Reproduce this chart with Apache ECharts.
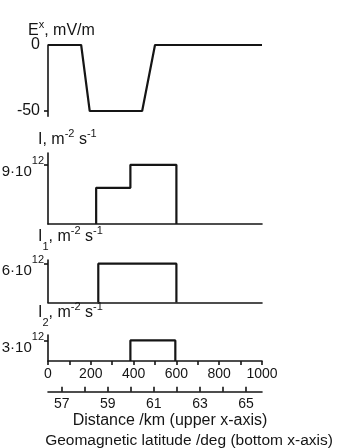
<!DOCTYPE html>
<html><head><meta charset="utf-8">
<script src="https://cdn.jsdelivr.net/npm/echarts@6/dist/echarts.min.js"></script>
<style>html,body{margin:0;padding:0;background:#fff}#c{width:347px;height:448px}</style>
</head><body><div id="c"></div>
<script>
// ---- data ----
const distTicks = [0,100,200,300,400,500,600,700,800,900,1000];
const distLabels = [0,200,400,600,800,1000];
const latTicks = [57,58,59,60,61,62,63,64,65];
const latLabels = [57,59,61,63,65];
// E^x (mV/m) vs distance (km)
const exX = [0,155,195,440,500,1000];
const exY = [0,0,-50,-50,0,0];
// I (units of 1e12 m^-2 s^-1)
const iX = [225,225,385,385,600,600];
const iY = [0,5.5,5.5,9,9,0];
// I1
const i1X = [235,235,600,600];
const i1Y = [0,6,6,0];
// I2
const i2X = [385,385,595,595];
const i2Y = [0,3,3,0];
// y tick labels
const exTicks = [-50];
const exLabels = [-50,0];
const iLabel = [9];
const i1Label = [6];
const i2Label = [3];

const zip = (a,b) => a.map((v,k)=>[v,b[k]]);
const INK = '#151515';
const FONT = 'Liberation Sans, Arial, sans-serif';
const NARROW = '"Liberation Sans Narrow", "Liberation Sans", sans-serif';

const supRich = {
  h:{fontSize:1,lineHeight:30,width:0},
  n:{fontSize:15,fontFamily:FONT,color:INK,lineHeight:18,verticalAlign:'bottom'},
  s:{fontSize:11,fontFamily:FONT,color:INK,lineHeight:22,verticalAlign:'top',padding:[6,0,0,0]}
};
const powFmt = v => '{h|\u200b}{n|' + v + '\u00b710}{s|12}';

function yAx(gi,min,max,ticks,labels,fmt,rich,margin){
  return {gridIndex:gi,type:'value',min:min,max:max,
    axisLine:{show:true,onZero:false,lineStyle:{color:INK,width:1.6}},
    axisTick:{show:true,length:4,customValues:ticks,lineStyle:{color:INK,width:1.6}},
    axisLabel:{show:true,customValues:labels,margin:margin||8,fontSize:16,fontFamily:FONT,color:INK,
      formatter:fmt||(v=>String(v)),rich:rich||undefined},
    splitLine:{show:false}};
}
function xAx(gi,extra){
  return Object.assign({gridIndex:gi,type:'value',min:0,max:1000,
    axisLine:{show:true,onZero:false,lineStyle:{color:INK,width:1.6}},
    axisTick:{show:false},axisLabel:{show:false},splitLine:{show:false}},extra||{});
}

const titleRich = {
  m:{fontSize:16,fontFamily:FONT,color:INK,lineHeight:26},
  p:{fontSize:11,fontFamily:FONT,color:INK,lineHeight:14,verticalAlign:'top',padding:[1.5,0,0,0]},
  b:{fontSize:11,fontFamily:FONT,color:INK,lineHeight:26,verticalAlign:'top',padding:[17,0,0,0]}
};
function ttl(x,y,text){
  return {type:'text',x:x,y:y,style:{text:text,rich:titleRich,verticalAlign:'middle',align:'left',fill:INK,font:'16px '+FONT}};
}
const G = (top,height)=>({left:48,width:214,top:top,height:height,containLabel:false,outerBoundsMode:'none'});

const chart = echarts.init(document.getElementById('c'),null,{renderer:'canvas'});
chart.setOption({
  animation:false,
  backgroundColor:'#fff',
  grid:[G(45,71.3),G(153,71),G(260,42.5),G(335,26),G(380,11.7)],
  xAxis:[
    xAx(0,{axisLine:{show:false}}),
    xAx(1),
    xAx(2),
    xAx(3,{axisTick:{show:true,length:4,customValues:distTicks,lineStyle:{color:INK,width:1.6}},
      axisLabel:{show:true,customValues:distLabels,margin:6,fontSize:14,fontFamily:NARROW,color:INK,formatter:v=>String(v)}}),
    {gridIndex:4,type:'value',min:56.405,max:65.694,
      axisLine:{show:true,lineStyle:{color:INK,width:1.6}},
      axisTick:{show:true,inside:true,length:5,customValues:latTicks,lineStyle:{color:INK,width:1.6}},
      axisLabel:{show:true,customValues:latLabels,margin:5,fontSize:14,fontFamily:NARROW,color:INK,formatter:v=>String(v)},
      splitLine:{show:false}}
  ],
  yAxis:[
    yAx(0,-54,0,exTicks,exLabels),
    yAx(1,0,10.8,iLabel,iLabel,powFmt,supRich,4),
    yAx(2,0,6.57,i1Label,i1Label,powFmt,supRich,4),
    yAx(3,0,3.8,i2Label,i2Label,powFmt,supRich,4),
    {gridIndex:4,type:'value',show:false,min:0,max:1}
  ],
  series:[
    {type:'line',xAxisIndex:0,yAxisIndex:0,data:zip(exX,exY),symbol:'none',lineStyle:{color:INK,width:2.2},silent:true},
    {type:'line',xAxisIndex:1,yAxisIndex:1,data:zip(iX,iY),symbol:'none',lineStyle:{color:INK,width:2.2},silent:true},
    {type:'line',xAxisIndex:2,yAxisIndex:2,data:zip(i1X,i1Y),symbol:'none',lineStyle:{color:INK,width:2.2},silent:true},
    {type:'line',xAxisIndex:3,yAxisIndex:3,data:zip(i2X,i2Y),symbol:'none',lineStyle:{color:INK,width:2.2},silent:true}
  ],
  graphic:[
    ttl(28,31,'{m|E}{p|x}{m|, mV/m}'),
    ttl(38,140,'{m|I, m}{p|-2}{m| s}{p|-1}'),
    ttl(38,237,'{m|I}{b|1}{m|, m}{p|-2}{m| s}{p|-1}'),
    ttl(38,313,'{m|I}{b|2}{m|, m}{p|-2}{m| s}{p|-1}'),
    {type:'text',x:170,y:421,style:{text:'Distance /km (upper x-axis)',align:'center',verticalAlign:'middle',fill:INK,font:'16px '+FONT}},
    {type:'text',x:189,y:441,style:{text:'Geomagnetic latitude /deg (bottom x-axis)',align:'center',verticalAlign:'middle',fill:INK,font:'15.5px '+FONT}}
  ]
});
</script></body></html>
